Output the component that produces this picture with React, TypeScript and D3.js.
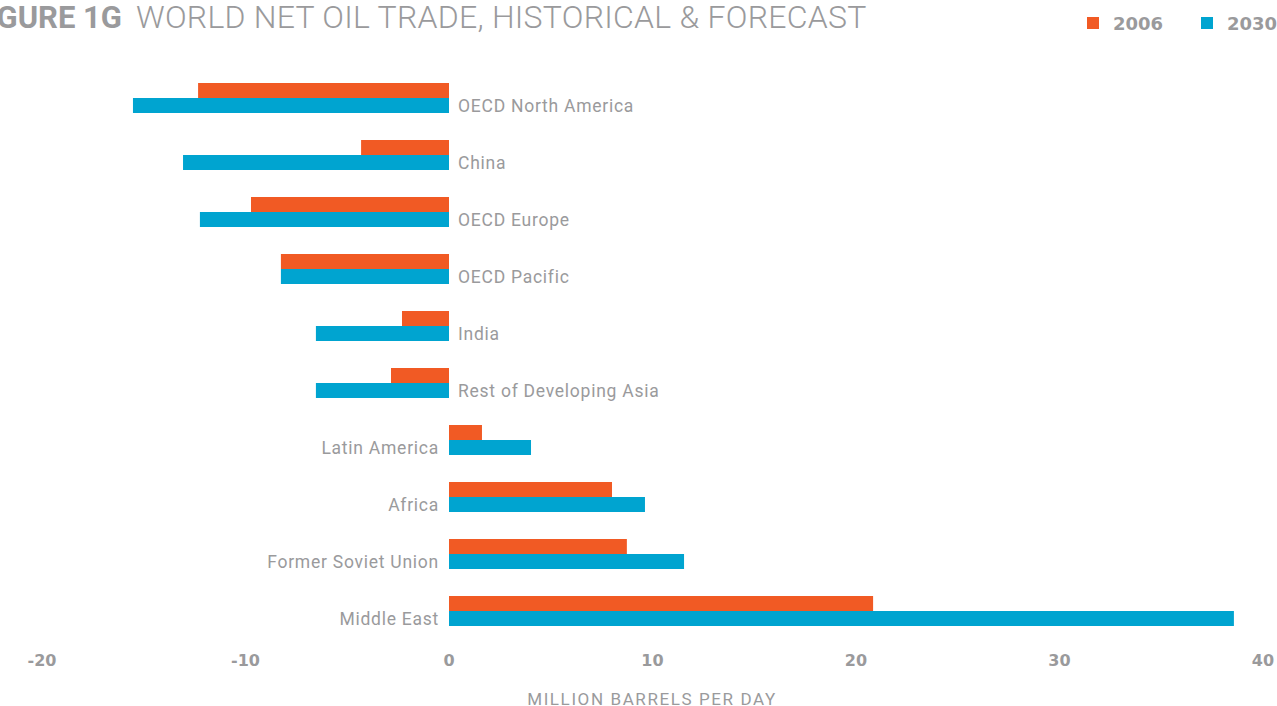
import React from "react";
import * as d3 from "d3";

const categories = [
  "OECD North America",
  "China",
  "OECD Europe",
  "OECD Pacific",
  "India",
  "Rest of Developing Asia",
  "Latin America",
  "Africa",
  "Former Soviet Union",
  "Middle East",
];
const values2006 = [-12.33, -4.32, -9.73, -8.26, -2.31, -2.85, 1.62, 8.01, 8.74, 20.84];
const values2030 = [-15.53, -13.07, -12.24, -8.26, -6.54, -6.54, 4.03, 9.63, 11.55, 38.57];
const seriesNames = ["2006", "2030"];
const xTicks = [-20, -10, 0, 10, 20, 30, 40];

const W = 1277;
const H = 706;
const ORANGE = "#F15A24";
const BLUE = "#00A4D0";
const GREY = "#9a9a9c";
const LABEL_FONT = "Roboto, 'Open Sans', sans-serif";
const BOLD_FONT = "'DejaVu Sans', sans-serif";

export default function App() {
  const x = d3.scaleLinear().domain([-20, 40]).range([42, 1263]);
  const y = d3
    .scaleBand<string>()
    .domain(categories)
    .range([69.5, 639.5])
    .paddingInner(27 / 57)
    .paddingOuter(27 / 114);
  const ySub = d3.scaleBand<string>().domain(seriesNames).range([0, y.bandwidth()]);
  const colors = d3.scaleOrdinal<string, string>().domain(seriesNames).range([ORANGE, BLUE]);
  const seriesValues = [values2006, values2030];

  return (
    <svg
      width={W}
      height={H}
      style={{ position: "absolute", left: 0, top: 0, display: "block" }}
    >
      <rect x={0} y={0} width={W} height={H} fill="#fff" />
      {/* Title */}
      <text
        x={122}
        y={28}
        textAnchor="end"
        fontFamily={LABEL_FONT}
        fontWeight={700}
        fontSize={31}
        fill={GREY}
      >
        FIGURE 1G
      </text>
      <text
        x={136}
        y={28}
        fontFamily={LABEL_FONT}
        fontWeight={300}
        fontSize={32}
        letterSpacing={0.25}
        fill={GREY}
      >
        WORLD NET OIL TRADE, HISTORICAL &amp; FORECAST
      </text>

      {/* Legend */}
      {seriesNames.map((s, i) => {
        const lx = [1087, 1201][i];
        return (
          <g key={s}>
            <rect x={lx} y={17} width={12} height={12} fill={colors(s)} />
            <text
              x={lx + 26}
              y={29.5}
              fontFamily={BOLD_FONT}
              fontWeight={700}
              fontSize={18}
              fill={GREY}
            >
              {s}
            </text>
          </g>
        );
      })}

      {/* Bars */}
      {categories.map((c, ci) => (
        <g key={c} transform={`translate(0,${y(c)})`}>
          {seriesNames.map((s, si) => {
            const v = seriesValues[si][ci];
            const x0 = x(Math.min(0, v));
            const x1 = x(Math.max(0, v));
            return (
              <rect
                key={s}
                x={x0}
                y={ySub(s)}
                width={x1 - x0}
                height={ySub.bandwidth()}
                fill={colors(s)}
              />
            );
          })}
        </g>
      ))}

      {/* Category labels */}
      {categories.map((c, ci) => {
        const neg = values2006[ci] < 0 || values2030[ci] < 0;
        const cy = (y(c) as number) + (ySub("2030") as number) + ySub.bandwidth() / 2;
        return (
          <text
            key={c}
            x={neg ? x(0) + 9 : x(0) - 10}
            y={cy}
            dy="0.36em"
            textAnchor={neg ? "start" : "end"}
            fontFamily={LABEL_FONT}
            fontSize={17.5}
            letterSpacing={0.75}
            fill={GREY}
          >
            {c}
          </text>
        );
      })}

      {/* X axis tick labels */}
      {xTicks.map((t) => (
        <text
          key={t}
          x={x(t)}
          y={666}
          textAnchor="middle"
          fontFamily={BOLD_FONT}
          fontWeight={700}
          fontSize={16}
          fill={GREY}
        >
          {t}
        </text>
      ))}

      {/* Axis title */}
      <text
        x={652}
        y={704.5}
        textAnchor="middle"
        fontFamily={LABEL_FONT}
        fontSize={17}
        letterSpacing={1.6}
        fill={GREY}
      >
        MILLION BARRELS PER DAY
      </text>
    </svg>
  );
}
